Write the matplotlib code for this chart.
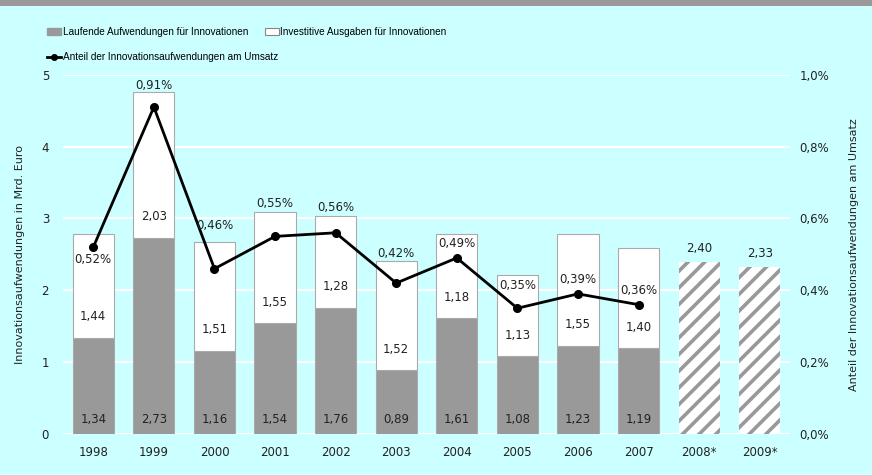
import matplotlib
matplotlib.use("Agg")
import matplotlib.pyplot as plt
from matplotlib.patches import Patch, Rectangle
from matplotlib.lines import Line2D
import numpy as np

# data
years = ["1998", "1999", "2000", "2001", "2002", "2003", "2004", "2005", "2006", "2007", "2008*", "2009*"]
laufend = [1.34, 2.73, 1.16, 1.54, 1.76, 0.89, 1.61, 1.08, 1.23, 1.19]
investiv = [1.44, 2.03, 1.51, 1.55, 1.28, 1.52, 1.18, 1.13, 1.55, 1.40]
prognose = [2.40, 2.33]
anteil = [0.52, 0.91, 0.46, 0.55, 0.56, 0.42, 0.49, 0.35, 0.39, 0.36]

# pixel offsets of the percent labels relative to the points
pct_offsets = [-12, 22, 43, 33, 25, 30, 14, 23, 14, 14]

BG = "#CCFFFF"
GRAY = "#999999"
TXT = "#222222"

fig = plt.figure(figsize=(8.72, 4.75), dpi=100, facecolor=BG)
ax = fig.add_axes([63 / 872, 41 / 475, 727 / 872, 359.3 / 475])
ax.set_facecolor(BG)
fig.add_artist(Rectangle((0, 1 - 6 / 475), 1, 6 / 475, transform=fig.transFigure,
                         facecolor=GRAY, edgecolor="none"))

x = np.arange(len(years))
xa = x[:len(laufend)]
xp = x[len(laufend):]
w = 0.68

ax.bar(xa, laufend, w, color=GRAY, edgecolor="#aaaaaa", linewidth=0.8, zorder=2)
ax.bar(xa, investiv, w, bottom=laufend, color="white", edgecolor="#aaaaaa", linewidth=0.8, zorder=2)
plt.rcParams["hatch.linewidth"] = 2.6
plt.rcParams["hatch.color"] = GRAY
ax.bar(xp, prognose, w, color="white", edgecolor=GRAY, hatch="//", linewidth=0, zorder=2)

ax.set_xlim(-0.5, len(years) - 0.5)
ax.set_ylim(0, 5)
ax.set_yticks(range(6))
ax.grid(axis="y", color="white", linewidth=1.5, zorder=0)
ax.set_axisbelow(True)
for s in ax.spines.values():
    s.set_visible(False)
ax.tick_params(length=0, labelsize=8.5, colors=TXT, pad=10)
ax.tick_params(axis="x", pad=9)
ax.set_xticks(x)
ax.set_xticklabels(years)
ax.set_ylabel("Innovationsaufwendungen in Mrd. Euro", fontsize=8, color=TXT, labelpad=12)

# value labels
for xi, a, b in zip(xa, laufend, investiv):
    ax.annotate(f"{a:.2f}".replace(".", ","), (xi, 0), xytext=(0, 14), textcoords="offset pixels",
                ha="center", va="center", fontsize=8.5, color=TXT, zorder=5)
    ax.annotate(f"{b:.2f}".replace(".", ","), (xi, a), xytext=(0, 21), textcoords="offset pixels",
                ha="center", va="center", fontsize=8.5, color=TXT, zorder=5)
for xi, v in zip(xp, prognose):
    ax.annotate(f"{v:.2f}".replace(".", ","), (xi, v), xytext=(0, 13), textcoords="offset pixels",
                ha="center", va="center", fontsize=8.5, color=TXT, zorder=5)

ax2 = ax.twinx()
ax2.set_ylim(0, 1.0)
ax2.set_yticks(np.arange(0, 1.01, 0.2))
ax2.set_yticklabels([f"{t:.1f}%".replace(".", ",") for t in np.arange(0, 1.01, 0.2)])
for s in ax2.spines.values():
    s.set_visible(False)
ax2.tick_params(length=0, labelsize=8.5, colors=TXT, pad=7)
ax2.plot(xa, anteil, color="black", linewidth=2, marker="o", markersize=5.5, zorder=4)
ax2.set_ylabel("Anteil der Innovationsaufwendungen am Umsatz", fontsize=8, color=TXT, labelpad=14)
for xi, v, off in zip(xa, anteil, pct_offsets):
    ax2.annotate(f"{v:.2f}%".replace(".", ","), (xi, v), xytext=(0, off), textcoords="offset pixels",
                 ha="center", va="center", fontsize=8.5, color=TXT, zorder=5)

# legend, two blocks placed like the original
leg_font = {"family": "Liberation Sans", "size": 7.2}
leg_kw = dict(loc="upper left", frameon=False, borderpad=0, borderaxespad=0, handlelength=1.4,
              handletextpad=0.15, labelspacing=1.5, prop=leg_font)
h_lauf = Patch(facecolor=GRAY, edgecolor=GRAY, label="Laufende Aufwendungen für Innovationen")
h_line = Line2D([0], [0], color="black", linewidth=2, marker="o", markersize=4,
                label="Anteil der Innovationsaufwendungen am Umsatz")
h_inv = Patch(facecolor="white", edgecolor="#888888", linewidth=0.8, label="Investitive Ausgaben für Innovationen")
fig.legend(handles=[h_lauf, h_line], bbox_to_anchor=(47 / 872, 1 - 27 / 475), **leg_kw)
fig.legend(handles=[h_inv], bbox_to_anchor=(265 / 872, 1 - 27 / 475), **leg_kw)

fig.savefig("out.png", dpi=100, facecolor=BG)
